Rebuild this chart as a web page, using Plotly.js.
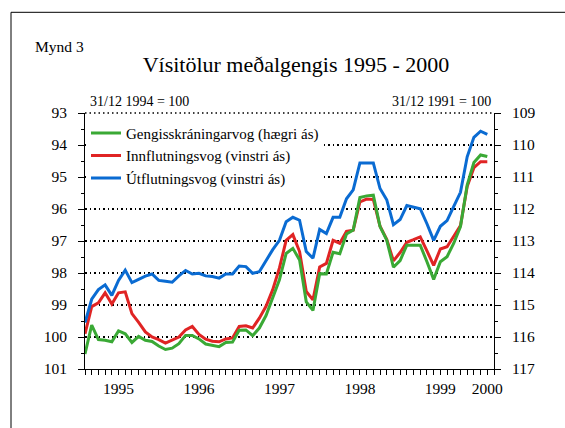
<!DOCTYPE html>
<html><head><meta charset="utf-8">
<script src="https://cdn.plot.ly/plotly-3.0.1.min.js"></script>
<style>html,body{margin:0;padding:0;background:#fff;}#chart{width:565px;height:428px;}</style>
</head><body><div id="chart"></div>
<script>
const months = ['1995-01','1995-02','1995-03','1995-04','1995-05','1995-06','1995-07','1995-08','1995-09','1995-10','1995-11','1995-12',
'1996-01','1996-02','1996-03','1996-04','1996-05','1996-06','1996-07','1996-08','1996-09','1996-10','1996-11','1996-12',
'1997-01','1997-02','1997-03','1997-04','1997-05','1997-06','1997-07','1997-08','1997-09','1997-10','1997-11','1997-12',
'1998-01','1998-02','1998-03','1998-04','1998-05','1998-06','1998-07','1998-08','1998-09','1998-10','1998-11','1998-12',
'1999-01','1999-02','1999-03','1999-04','1999-05','1999-06','1999-07','1999-08','1999-09','1999-10','1999-11','1999-12',
'2000-01'];
const yearLabels = ['1995','1996','1997','1998','1999','2000'];
const yearLabelMonths = ['1995-06','1996-06','1997-06','1998-06','1999-06','2000-01'];

// Gengisskráningarvog (right axis)
const gengi = [116.53,115.63,116.08,116.10,116.15,115.81,115.90,116.17,115.98,116.10,
116.14,116.28,116.39,116.35,116.21,115.95,115.95,116.06,116.22,116.26,
116.30,116.17,116.16,115.79,115.78,115.96,115.72,115.33,114.80,114.21,
113.39,113.23,113.59,114.90,115.17,114.02,114.03,113.35,113.40,112.78,
112.66,111.64,111.59,111.57,112.55,112.97,113.82,113.61,113.13,113.13,
113.13,113.65,114.20,113.65,113.49,113.07,112.55,111.25,110.55,110.31,
110.36];
// Innflutningsvog (left axis)
const innflutningur = [99.90,99.05,98.93,98.62,98.97,98.62,98.59,99.27,99.54,99.84,
100.00,100.08,100.19,100.10,100.00,99.78,99.67,99.92,100.07,100.13,
100.15,100.06,100.03,99.67,99.65,99.72,99.41,99.04,98.52,97.84,
96.98,96.80,97.33,98.58,98.84,97.81,97.70,96.98,97.07,96.70,
96.66,95.78,95.69,95.70,96.54,96.95,97.62,97.36,97.04,96.96,
96.87,97.31,97.76,97.25,97.18,96.85,96.52,95.30,94.71,94.52,
94.52];
// Útflutningsvog (left axis)
const utflutningur = [99.55,98.82,98.52,98.37,98.70,98.23,97.91,98.30,98.20,98.10,
98.03,98.23,98.26,98.29,98.09,97.92,98.03,98.01,98.09,98.11,
98.16,98.03,98.03,97.78,97.80,98.01,97.96,97.60,97.27,96.98,
96.40,96.26,96.35,97.33,97.54,96.64,96.77,96.26,96.26,95.68,
95.40,94.56,94.56,94.56,95.36,95.71,96.49,96.33,95.89,95.94,
95.99,96.46,96.98,96.54,96.36,95.92,95.48,94.37,93.76,93.57,
93.67];

const leftTicks = [93,94,95,96,97,98,99,100,101];
const rightTicks = [109,110,111,112,113,114,115,116,117];

const xIdx = months.map((m, i) => i);
const tickPos = []; const tickTxt = [];
for (let i = 0; i <= months.length; i++) {
  tickPos.push(i);
  const k = yearLabelMonths.indexOf(months[i]);
  tickTxt.push(k >= 0 ? yearLabels[k] : '');
}

const FONT = '"Liberation Serif", "Times New Roman", Times, serif';
const data = [
  {x: xIdx, y: gengi, yaxis: 'y2', type: 'scatter', mode: 'lines', name: 'Gengisskráningarvog (hægri ás)',
   line: {color: '#3aa935', width: 3}, text: months, hoverinfo: 'text+y'},
  {x: xIdx, y: innflutningur, yaxis: 'y', type: 'scatter', mode: 'lines', name: 'Innflutningsvog (vinstri ás)',
   line: {color: '#e02424', width: 3}, text: months, hoverinfo: 'text+y'},
  {x: xIdx, y: utflutningur, yaxis: 'y', type: 'scatter', mode: 'lines', name: 'Útflutningsvog (vinstri ás)',
   line: {color: '#0a6bd2', width: 3}, text: months, hoverinfo: 'text+y'}
];

const px = v => (v - 85) / 409;
const py = v => (368.7 - v) / 256;

const layout = {
  width: 565, height: 428,
  margin: {l: 85, r: 71, t: 113, b: 59, pad: 0},
  paper_bgcolor: '#fff', plot_bgcolor: 'rgba(0,0,0,0)',
  font: {family: FONT, color: '#000', size: 15},
  title: {text: 'Vísitölur meðalgengis 1995 - 2000', font: {family: FONT, size: 22, color: '#000'},
          xref: 'paper', x: px(296), xanchor: 'center', yref: 'container', y: 1 - 64/428, yanchor: 'middle'},
  showlegend: true,
  legend: {x: px(86), y: py(116.5), xanchor: 'left', yanchor: 'top', bgcolor: '#fff', borderwidth: 0,
           font: {family: FONT, size: 15, color: '#000'}, itemwidth: 30, tracegroupgap: 0},
  xaxis: {range: [0, 61], autorange: false, tickmode: 'array', tickvals: tickPos, ticktext: tickTxt,
          ticks: 'outside', ticklen: 5, tickcolor: '#000', tickwidth: 1, showline: true, linecolor: '#000', linewidth: 1,
          showgrid: false, zeroline: false, tickfont: {family: FONT, size: 15.5, color: '#000'},
          fixedrange: true},
  yaxis: {range: [101, 93], autorange: false, tickmode: 'array', tickvals: leftTicks, ticktext: leftTicks.map(String),
          ticks: 'outside', ticklen: 6, tickcolor: '#000', showline: true, linecolor: '#000', linewidth: 1,
          showgrid: true, gridcolor: '#000', gridwidth: 1.5, griddash: '1.5px,3px', zeroline: false,
          minor: {tickmode: 'array', tickvals: [93.5,94.5,95.5,96.5,97.5,98.5,99.5,100.5], ticks: 'outside', ticklen: 3, tickcolor: '#000', showgrid: false},
          tickfont: {family: FONT, size: 15.5, color: '#000'}, ticklabelstandoff: 8, fixedrange: true},
  yaxis2: {range: [117, 109], autorange: false, overlaying: 'y', side: 'right', tickmode: 'array', tickvals: rightTicks, ticktext: rightTicks.map(String),
          ticks: 'outside', ticklen: 6, tickcolor: '#000', showline: true, linecolor: '#000', linewidth: 1,
          showgrid: false, zeroline: false,
          minor: {tickmode: 'array', tickvals: [109.5,110.5,111.5,112.5,113.5,114.5,115.5,116.5], ticks: 'outside', ticklen: 3, tickcolor: '#000', showgrid: false},
          tickfont: {family: FONT, size: 15.5, color: '#000'}, ticklabelstandoff: 8, fixedrange: true},
  annotations: [
    {text: 'Mynd 3', xref: 'paper', yref: 'paper', x: px(33), y: py(46), xanchor: 'left', yanchor: 'middle', showarrow: false,
     font: {family: FONT, size: 15.5, color: '#000'}},
    {text: '31/12 1994 = 100', xref: 'paper', yref: 'paper', x: px(88), y: py(101), xanchor: 'left', yanchor: 'middle', showarrow: false,
     font: {family: FONT, size: 14, color: '#000'}},
    {text: '31/12 1991 = 100', xref: 'paper', yref: 'paper', x: px(493), y: py(101), xanchor: 'right', yanchor: 'middle', showarrow: false,
     font: {family: FONT, size: 14, color: '#000'}}
  ],
  shapes: [
    {type: 'line', xref: 'paper', yref: 'paper', x0: 0, x1: 1, y0: 1, y1: 1, line: {color: '#000', width: 1.5, dash: '1.5px,3px'}, layer: 'below'},
    {type: 'line', xref: 'paper', yref: 'paper', x0: px(11), x1: px(11), y0: py(12), y1: py(440), line: {color: '#000', width: 1}},
    {type: 'line', xref: 'paper', yref: 'paper', x0: px(11), x1: px(570), y0: py(12), y1: py(12), line: {color: '#000', width: 1}}
  ]
};
Plotly.newPlot('chart', data, layout, {displayModeBar: false, staticPlot: true});
</script></body></html>
